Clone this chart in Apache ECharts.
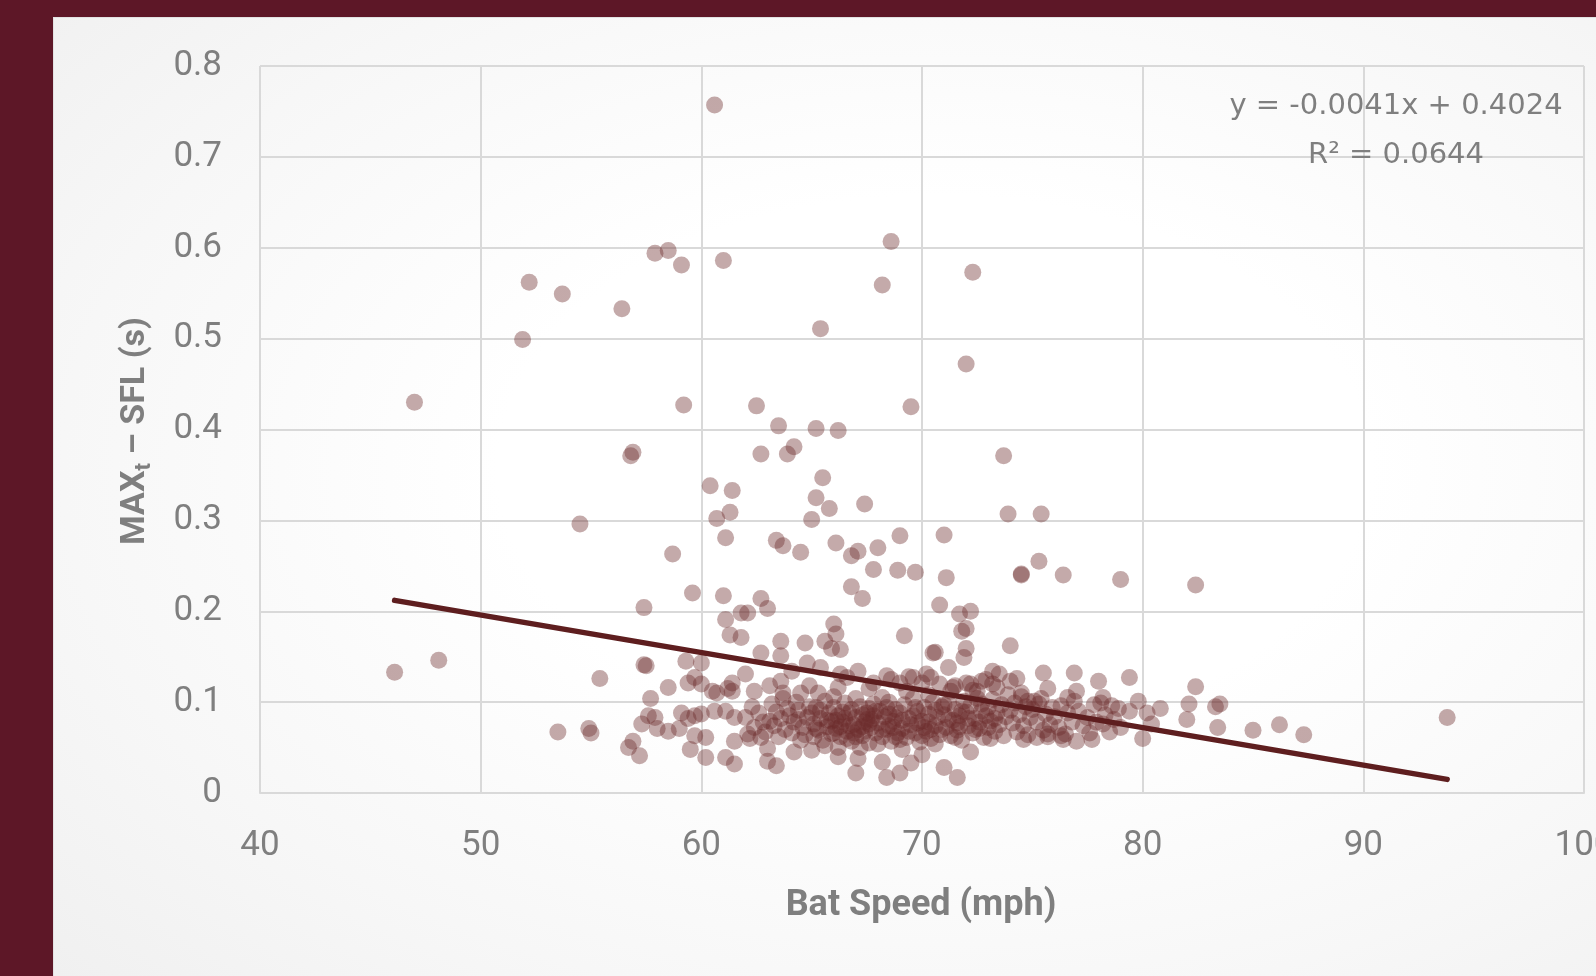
<!DOCTYPE html>
<html>
<head>
<meta charset="utf-8">
<script src="https://cdn.jsdelivr.net/npm/echarts@6/dist/echarts.min.js"></script>
<style>
  html, body { margin: 0; padding: 0; width: 1596px; height: 976px; overflow: hidden; background: #5d1727; }
  #panel {
    position: absolute; left: 53px; top: 17px; width: 1600px; height: 1000px;
    background: radial-gradient(ellipse at 55% 45%, #ffffff 35%, #f7f7f7 70%, #efefef 100%);
    border-left: 1px solid #e2e2e2; border-top: 1px solid #e2e2e2;
  }
  #chart { position: absolute; left: 0; top: 0; width: 1596px; height: 976px; }
</style>
</head>
<body>
<div id="panel"></div>
<div id="chart"></div>
<script>
// axis ticks
var xTicks = [40, 50, 60, 70, 80, 90, 100]
var yTicks = [0, 0.1, 0.2, 0.3, 0.4, 0.5, 0.6, 0.7, 0.8]

// sparse points (bat speed mph, MAXt - SFL s)
var outlierPoints = [
  [60.6, 0.757], [47.0, 0.430], [52.2, 0.562], [51.9, 0.499], [53.7, 0.549], [54.5, 0.296], [56.4, 0.533],
  [56.8, 0.371], [56.9, 0.375], [57.9, 0.594], [58.5, 0.597], [59.1, 0.581], [59.2, 0.427], [58.7, 0.263],
  [57.4, 0.204], [59.6, 0.220], [60.4, 0.338], [61.4, 0.333], [60.7, 0.302], [61.3, 0.309], [61.1, 0.281],
  [61.0, 0.586], [61.0, 0.217], [61.1, 0.191], [61.3, 0.174], [61.8, 0.171], [61.8, 0.198], [62.1, 0.198],
  [62.7, 0.214], [63.0, 0.203], [62.5, 0.426], [62.7, 0.373], [63.5, 0.404], [63.9, 0.373], [64.2, 0.381],
  [63.4, 0.278], [63.7, 0.272], [64.5, 0.265], [65.2, 0.401], [66.2, 0.399], [65.4, 0.511], [65.5, 0.347],
  [65.2, 0.325], [65.8, 0.313], [65.0, 0.301], [66.1, 0.275], [66.8, 0.261], [67.1, 0.266], [67.4, 0.318],
  [68.0, 0.270], [67.8, 0.246], [66.8, 0.227], [67.3, 0.214], [68.2, 0.559], [68.6, 0.607], [69.0, 0.283],
  [68.9, 0.245], [69.7, 0.243], [69.5, 0.425], [69.2, 0.173], [72.3, 0.573], [72.0, 0.472], [71.0, 0.284],
  [71.1, 0.237], [70.8, 0.207], [70.6, 0.155], [71.7, 0.197], [72.2, 0.200], [71.8, 0.178], [72.0, 0.181],
  [72.0, 0.159], [71.9, 0.149], [73.7, 0.371], [73.9, 0.307], [75.4, 0.307], [74.5, 0.240], [74.5, 0.241],
  [75.3, 0.255], [76.4, 0.240], [79.0, 0.235], [82.4, 0.229], [74.0, 0.162],
  [46.1, 0.133], [48.1, 0.146], [55.4, 0.126], [53.5, 0.067], [54.9, 0.071], [55.0, 0.066], [57.4, 0.141],
  [57.5, 0.140], [85.0, 0.069], [86.2, 0.075], [87.3, 0.064], [93.8, 0.083],
  [67.0, 0.022], [68.4, 0.017], [69.0, 0.022], [71.0, 0.028], [71.6, 0.017]
]

// left part of the main cluster
var leftCluster = [
  [57.7, 0.104], [58.5, 0.116], [59.3, 0.145], [60.0, 0.143], [59.7, 0.127], [59.4, 0.121], [60.0, 0.120],
  [60.5, 0.112], [61.2, 0.115], [61.4, 0.121], [62.0, 0.131], [62.4, 0.112], [60.6, 0.090], [61.1, 0.090],
  [61.5, 0.083], [62.0, 0.083], [59.1, 0.088], [59.4, 0.082], [59.7, 0.085], [60.0, 0.087], [57.6, 0.085],
  [57.9, 0.083], [57.3, 0.076], [58.0, 0.071], [58.5, 0.068], [59.0, 0.071], [59.7, 0.063], [60.2, 0.061],
  [56.9, 0.057], [56.7, 0.050], [57.2, 0.041], [59.5, 0.048], [60.2, 0.039], [61.1, 0.039], [61.5, 0.032],
  [63.0, 0.035], [63.4, 0.030], [61.5, 0.057], [62.1, 0.065], [62.7, 0.061], [63.1, 0.079], [62.7, 0.154],
  [63.6, 0.167], [64.7, 0.165], [66.0, 0.186], [66.1, 0.175], [65.6, 0.167], [65.9, 0.159], [66.3, 0.158],
  [70.5, 0.154], [71.2, 0.138], [63.6, 0.151], [61.4, 0.112], [60.7, 0.110], [63.1, 0.118], [63.6, 0.123],
  [64.1, 0.134], [64.8, 0.143], [65.4, 0.138], [64.9, 0.118], [64.5, 0.110], [63.7, 0.110], [66.2, 0.116],
  [66.6, 0.127], [67.1, 0.134], [67.8, 0.121], [68.4, 0.129], [69.0, 0.121], [69.6, 0.127], [70.2, 0.131],
  [70.8, 0.120], [71.4, 0.116], [72.0, 0.121], [72.5, 0.112], [68.6, 0.125], [69.4, 0.128], [70.0, 0.121],
  [70.4, 0.127], [71.5, 0.118], [72.9, 0.125], [73.5, 0.131], [66.3, 0.131], [67.6, 0.115]
]

// dense band
var denseBand = [
  [62.3, 0.095], [62.6, 0.088], [62.8, 0.078], [62.4, 0.072], [62.9, 0.067], [62.2, 0.060],
  [63.2, 0.098], [63.4, 0.089], [63.6, 0.082], [63.3, 0.074], [63.8, 0.070], [63.5, 0.062], [63.9, 0.093], [63.7, 0.104],
  [64.0, 0.085], [64.2, 0.078], [64.4, 0.091], [64.1, 0.066], [64.6, 0.072], [64.3, 0.100], [64.8, 0.083], [64.5, 0.058], [64.9, 0.095], [64.7, 0.064],
  [65.0, 0.088], [65.1, 0.076], [65.3, 0.069], [65.2, 0.094], [65.4, 0.082], [65.5, 0.058], [65.6, 0.101], [65.7, 0.073],
  [65.8, 0.088], [65.9, 0.065], [65.3, 0.110], [65.6, 0.052], [65.9, 0.079], [65.1, 0.062],
  [66.0, 0.094], [66.1, 0.071], [66.2, 0.085], [66.3, 0.062], [66.4, 0.078], [66.5, 0.099], [66.6, 0.068], [66.7, 0.088],
  [66.8, 0.057], [66.9, 0.075], [66.2, 0.050], [66.5, 0.082], [66.0, 0.106], [66.8, 0.092], [66.3, 0.073], [66.6, 0.060],
  [67.0, 0.083], [67.1, 0.070], [67.2, 0.095], [67.3, 0.063], [67.4, 0.078], [67.5, 0.088], [67.6, 0.055], [67.7, 0.072],
  [67.8, 0.098], [67.9, 0.066], [67.2, 0.050], [67.5, 0.081], [67.0, 0.104], [67.8, 0.085], [67.3, 0.073], [67.6, 0.093],
  [68.0, 0.077], [68.1, 0.090], [68.2, 0.062], [68.3, 0.084], [68.4, 0.070], [68.5, 0.100], [68.6, 0.057], [68.7, 0.079],
  [68.8, 0.092], [68.9, 0.066], [68.2, 0.105], [68.5, 0.074], [68.0, 0.054], [68.8, 0.083],
  [69.0, 0.088], [69.1, 0.071], [69.2, 0.097], [69.3, 0.061], [69.4, 0.082], [69.5, 0.075], [69.6, 0.104], [69.7, 0.066],
  [69.8, 0.090], [69.9, 0.056], [69.3, 0.112], [69.6, 0.085], [69.1, 0.048],
  [70.0, 0.079], [70.1, 0.094], [70.2, 0.068], [70.3, 0.087], [70.4, 0.060], [70.5, 0.100], [70.6, 0.074], [70.7, 0.083],
  [70.8, 0.064], [70.9, 0.095], [70.3, 0.108], [70.6, 0.054], [70.1, 0.072],
  [71.0, 0.086], [71.1, 0.072], [71.2, 0.099], [71.3, 0.063], [71.4, 0.080], [71.5, 0.092], [71.6, 0.069], [71.7, 0.085],
  [71.8, 0.058], [71.9, 0.101], [71.3, 0.112], [71.6, 0.077],
  [72.0, 0.089], [72.1, 0.074], [72.2, 0.096], [72.3, 0.066], [72.4, 0.082], [72.5, 0.104], [72.6, 0.071], [72.7, 0.090],
  [72.8, 0.061], [72.9, 0.085], [72.3, 0.113], [72.6, 0.078],
  [73.0, 0.094], [73.1, 0.079], [73.2, 0.103], [73.3, 0.068], [73.4, 0.088], [73.5, 0.075], [73.6, 0.097], [73.7, 0.063],
  [73.8, 0.084], [73.9, 0.108], [73.4, 0.116], [73.1, 0.060],
  [74.0, 0.091], [74.1, 0.077], [74.2, 0.099], [74.3, 0.067], [74.4, 0.086], [74.6, 0.074], [74.7, 0.095], [74.8, 0.064],
  [74.9, 0.083], [74.5, 0.106],
  [75.0, 0.092], [75.2, 0.078], [75.3, 0.098], [75.5, 0.069], [75.6, 0.087], [75.8, 0.075], [75.9, 0.094], [75.4, 0.104], [75.7, 0.062],
  [76.0, 0.084], [76.2, 0.072], [76.3, 0.096], [76.5, 0.065], [76.6, 0.088], [76.8, 0.078], [76.9, 0.101], [76.4, 0.059],
  [77.1, 0.090], [77.3, 0.074], [77.5, 0.083], [77.6, 0.066], [77.8, 0.097], [77.9, 0.078],
  [78.3, 0.086], [78.7, 0.081], [78.9, 0.093], [78.5, 0.067],
  [66.2, 0.040], [67.1, 0.038], [68.2, 0.034], [69.5, 0.033], [70.0, 0.042], [72.2, 0.045], [64.2, 0.045], [65.0, 0.047], [63.0, 0.049],
  [65.4, 0.091], [65.7, 0.080], [66.0, 0.066], [66.4, 0.089], [66.7, 0.074], [67.0, 0.062], [67.3, 0.086], [67.6, 0.076],
  [67.9, 0.090], [68.2, 0.070], [68.5, 0.087], [68.8, 0.062], [69.1, 0.080], [69.4, 0.068], [69.7, 0.094], [70.0, 0.063],
  [70.3, 0.078], [70.6, 0.091], [70.9, 0.070], [71.2, 0.081], [71.5, 0.061], [71.8, 0.090], [72.1, 0.082], [72.4, 0.070],
  [72.7, 0.098], [73.0, 0.072], [73.3, 0.082], [66.1, 0.080], [66.9, 0.066], [67.7, 0.081], [68.4, 0.094], [69.0, 0.059],
  [69.8, 0.077], [70.4, 0.070], [71.0, 0.097], [71.7, 0.073], [67.4, 0.068], [68.7, 0.072], [65.2, 0.071], [64.4, 0.081]
]

// right part of the cluster
var rightCluster = [
  [73.2, 0.134], [74.3, 0.126], [75.5, 0.132], [76.9, 0.132], [78.0, 0.123], [79.4, 0.127], [82.4, 0.117],
  [72.2, 0.120], [72.7, 0.123], [73.2, 0.120], [74.0, 0.123], [74.5, 0.110], [75.7, 0.115], [77.0, 0.112],
  [76.6, 0.105], [75.1, 0.101], [74.8, 0.101], [78.1, 0.099], [78.6, 0.096], [79.4, 0.090], [79.8, 0.101],
  [80.2, 0.088], [80.8, 0.093], [82.1, 0.098], [83.3, 0.095], [83.5, 0.098], [78.2, 0.076], [79.0, 0.072],
  [80.4, 0.076], [82.0, 0.081], [83.4, 0.072], [80.0, 0.060], [77.7, 0.059], [77.0, 0.057], [76.3, 0.063],
  [75.7, 0.065], [75.2, 0.061], [74.6, 0.059], [78.2, 0.105]
]

// trendline ends as drawn
var trendLine = [[46.1, 0.212], [93.8, 0.015]]
var trendLabel = ['y = -0.0041x + 0.4024', 'R\u00b2 = 0.0644']

var allPoints = outlierPoints.concat(leftCluster, denseBand, rightCluster)

var grey = '#7f7f7f'
var gridGrey = '#d9d9d9'

var chart = echarts.init(document.getElementById('chart'))
chart.setOption({
  backgroundColor: 'transparent',
  animation: false,
  grid: { left: 260, top: 66, right: 12, bottom: 183, outerBoundsMode: 'none', containLabel: false },
  xAxis: {
    type: 'value',
    min: xTicks[0],
    max: xTicks[xTicks.length - 1],
    interval: 10,
    axisLine: { show: true, onZero: false, lineStyle: { color: gridGrey, width: 2 } },
    axisTick: { show: false },
    splitLine: { show: true, lineStyle: { color: gridGrey, width: 2 } },
    axisLabel: { color: grey, fontSize: 35, fontFamily: 'Roboto', margin: 36 }
  },
  yAxis: {
    type: 'value',
    min: yTicks[0],
    max: yTicks[yTicks.length - 1],
    interval: 0.1,
    axisLine: { show: false },
    axisTick: { show: false },
    splitLine: { show: true, lineStyle: { color: gridGrey, width: 2 } },
    axisLabel: {
      color: grey, fontSize: 35, fontFamily: 'Roboto', margin: 38,
      formatter: function (v) { return v === 0 ? '0' : v.toFixed(1) }
    }
  },
  series: [
    {
      type: 'scatter',
      data: allPoints,
      symbolSize: 17,
      itemStyle: { color: 'rgba(108, 42, 43, 0.5)' },
      emphasis: { disabled: true },
      z: 2
    },
    {
      type: 'line',
      data: trendLine,
      symbol: 'none',
      lineStyle: { color: '#5e1e1f', width: 5.5, cap: 'round' },
      emphasis: { disabled: true },
      z: 3
    }
  ],
  graphic: [
    {
      type: 'text', x: 1396, y: 106, z: 100,
      style: { text: trendLabel[0], fill: grey, font: '29px "DejaVu Sans"', align: 'center', verticalAlign: 'middle' }
    },
    {
      type: 'text', x: 1396, y: 155, z: 100,
      style: { text: trendLabel[1], fill: grey, font: '29px "DejaVu Sans"', align: 'center', verticalAlign: 'middle' }
    },
    {
      type: 'text', x: 921, y: 906, z: 100,
      style: { text: 'Bat Speed (mph)', fill: grey, font: 'bold 36px Roboto', align: 'center', verticalAlign: 'middle' }
    },
    {
      type: 'text', x: 135, y: 431, rotation: Math.PI / 2, z: 100,
      style: {
        text: '{a|MAX}{s|t}{a| \u2013 SFL (s)}',
        align: 'center', verticalAlign: 'middle',
        rich: {
          a: { fill: grey, fontSize: 34, fontWeight: 'bold', fontFamily: 'Roboto', lineHeight: 40 },
          s: { fill: grey, fontSize: 22, fontWeight: 'bold', fontFamily: 'Roboto', lineHeight: 26, verticalAlign: 'bottom' }
        }
      }
    }
  ]
})
</script>
</body>
</html>
